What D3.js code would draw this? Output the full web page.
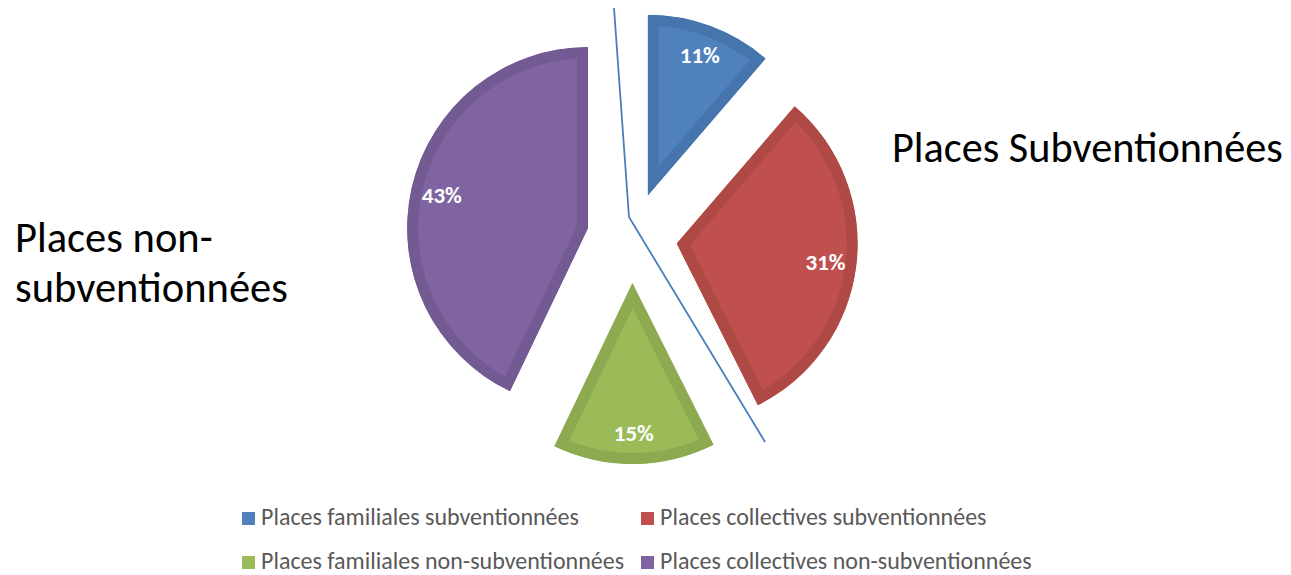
<!DOCTYPE html>
<html><head><meta charset="utf-8">
<script src="https://cdn.jsdelivr.net/npm/d3@7"></script>
<style>body{margin:0;background:#fff;} svg{display:block;}</style>
</head><body>
<svg id="c" width="1291" height="575"></svg>
<script>
const categories = ["Places familiales subventionnées","Places collectives subventionnées","Places familiales non-subventionnées","Places collectives non-subventionnées"];
const values = [11.3, 31.3, 14.5, 42.9];
const labels = ["11%", "31%", "15%", "43%"];
const fills = ["#4F81BD", "#C0504D", "#9BBB59", "#8064A2"];
const borders = ["#4675AE", "#AE4946", "#8DAA51", "#735A93"];

const W = 1291, H = 575;
const cx = 632, cy = 238, R = 181, explode = 45, labelR = 150;
const svg = d3.select("#c");
const font = "Carlito, Calibri, 'Open Sans', sans-serif";

const pie = d3.pie().sort(null).value(d => d)(values);
const arc = d3.arc().innerRadius(0).outerRadius(R);
const labArc = d3.arc().innerRadius(labelR).outerRadius(labelR);

const defs = svg.append("defs");
const g = svg.append("g").attr("transform", `translate(${cx},${cy})`);
pie.forEach((p, i) => {
  const mid = (p.startAngle + p.endAngle) / 2;
  const dx = explode * Math.sin(mid), dy = -explode * Math.cos(mid);
  const sg = g.append("g").attr("transform", `translate(${dx},${dy})`);
  const d = arc(p);
  defs.append("clipPath").attr("id", "cl" + i).append("path").attr("d", d);
  sg.append("path").attr("d", d).attr("fill", fills[i])
    .attr("stroke", borders[i]).attr("stroke-width", 22).attr("stroke-linejoin", "miter")
    .attr("clip-path", `url(#cl${i})`);
  const c = labArc.centroid(p);
  sg.append("text").attr("x", c[0]).attr("y", c[1]).attr("dy", "0.35em")
    .attr("text-anchor", "middle").attr("fill", "#fff").attr("font-weight", "bold")
    .attr("font-family", font).attr("font-size", 23).text(labels[i]);
});

// separator line
svg.append("polyline").attr("points", "614,8 629,217 765,442")
  .attr("fill", "none").attr("stroke", "#4A7EBB").attr("stroke-width", 1.8);

function fitText(sel, w) {
  const n = sel.node(); const l = n.getComputedTextLength();
  const fs = parseFloat(sel.attr("font-size"));
  sel.attr("font-size", fs * w / l);
}
const t1 = svg.append("text").attr("x", 892).attr("y", 162).attr("font-family", font)
  .attr("font-size", 36).attr("fill", "#000").text("Places Subventionnées");
fitText(t1, 391);
const t3 = svg.append("text").attr("x", 15).attr("y", 302).attr("font-family", font)
  .attr("font-size", 36).attr("fill", "#000").text("subventionnées");
fitText(t3, 273);
const t2 = svg.append("text").attr("x", 15).attr("y", 252).attr("font-family", font)
  .attr("fill", "#000").attr("font-size", t3.attr("font-size")).text("Places non-");

// legend
const legPos = [[242, 512], [641, 512], [242, 556], [641, 556]];
categories.forEach((c, i) => {
  const [x, y] = legPos[i];
  svg.append("rect").attr("x", x).attr("y", y).attr("width", 13).attr("height", 13).attr("fill", fills[i]);
  svg.append("text").attr("class", "leg").attr("x", x + 19).attr("y", y + 13).attr("font-family", font)
    .attr("font-size", 18).attr("fill", "#595959").text(c);
});
const l0 = svg.select("text.leg").node().getComputedTextLength();
svg.selectAll("text.leg").attr("font-size", 18 * 318 / l0);
</script>
</body></html>
